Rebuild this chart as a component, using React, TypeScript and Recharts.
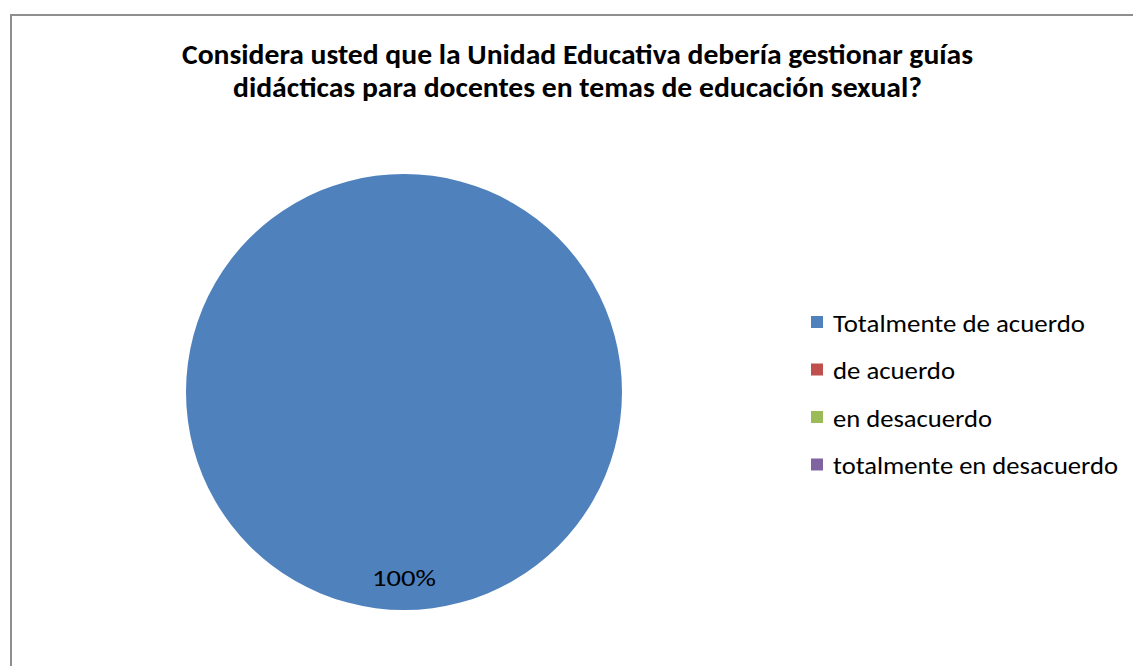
import { Cell, Customized, Legend, Pie, PieChart } from "recharts";

const categories = [
  "Totalmente de acuerdo",
  "de acuerdo",
  "en desacuerdo",
  "totalmente en desacuerdo",
];
const percentages = [100, 0, 0, 0];
const colors = ["#4F81BD", "#C0504D", "#9BBB59", "#8064A2"];
const titleLines = [
  "Considera usted que la Unidad Educativa debería gestionar guías",
  "didácticas para docentes en temas de educación sexual?",
];

const data = categories.map((name, i) => ({ name, value: percentages[i] }));

const FONT = "Carlito, Calibri, Lato, 'Open Sans', sans-serif";
const RAD = Math.PI / 180;

const titleWidths = [791, 689];
const legendWidths = [252, 122, 159, 285];

function Frame() {
  return (
    <g>
      <line x1={10} y1={15} x2={1133} y2={15} stroke="#8e8e8e" strokeWidth={2} />
      <line x1={11} y1={14} x2={11} y2={666} stroke="#8e8e8e" strokeWidth={2} />
      {titleLines.map((t, i) => (
        <text
          key={t}
          x={577.5}
          y={64 + i * 33}
          textAnchor="middle"
          fontFamily={FONT}
          fontWeight={700}
          fontSize={28}
          fill="#000"
          textLength={titleWidths[i]}
          lengthAdjust="spacingAndGlyphs"
        >
          {t}
        </text>
      ))}
    </g>
  );
}

function renderLabel(props: any) {
  const { cx, cy, midAngle, outerRadius, value } = props;
  if (!value) return null;
  const r = outerRadius * 0.855;
  const x = cx + r * Math.cos(-midAngle * RAD);
  const y = cy + r * Math.sin(-midAngle * RAD);
  return (
    <text
      x={x}
      y={y}
      textAnchor="middle"
      dominantBaseline="central"
      fontFamily={FONT}
      fontSize={23}
      fill="#000"
      textLength={64}
      lengthAdjust="spacingAndGlyphs"
    >
      {`${value}%`}
    </text>
  );
}

function LegendBox(props: any) {
  const items = props.payload || [];
  return (
    <svg width={320} height={200} style={{ display: "block" }}>
      {items.map((it: any, i: number) => {
        const y = 14 + i * 47.5;
        return (
          <g key={it.value}>
            <rect x={1} y={y - 6} width={12} height={12} fill={colors[i]} />
            <text
              x={23}
              y={y + 1}
              dominantBaseline="central"
              fontFamily={FONT}
              fontSize={24}
              fill="#000"
              textLength={legendWidths[i]}
              lengthAdjust="spacingAndGlyphs"
            >
              {it.value}
            </text>
          </g>
        );
      })}
    </svg>
  );
}

export default function App() {
  return (
    <div style={{ position: "absolute", left: 0, top: 0, width: 1133, height: 666, background: "#fff", overflow: "hidden" }}>
      <PieChart width={1133} height={666} margin={{ top: 0, right: 0, bottom: 0, left: 0 }}>
        <Customized component={Frame} />
        <Pie
          data={data}
          dataKey="value"
          nameKey="name"
          cx={404}
          cy={392}
          outerRadius={218}
          startAngle={90}
          endAngle={-270}
          stroke="none"
          label={renderLabel}
          labelLine={false}
          isAnimationActive={false}
        >
          {data.map((d, i) => (
            <Cell key={d.name} fill={colors[i]} />
          ))}
        </Pie>
        <Legend
          layout="vertical"
          content={LegendBox}
          wrapperStyle={{ position: "absolute", left: 810, top: 308, width: 320, height: 200 }}
        />
      </PieChart>
    </div>
  );
}
